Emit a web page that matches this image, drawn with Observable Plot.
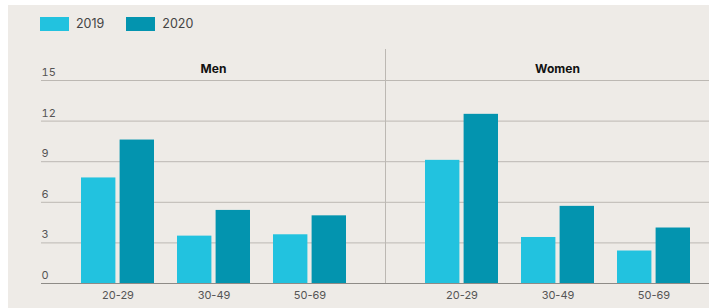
<!DOCTYPE html>
<html>
<head>
<meta charset="utf-8">
<script src="https://cdn.jsdelivr.net/npm/d3@7"></script>
<script src="https://cdn.jsdelivr.net/npm/@observablehq/plot@0.6"></script>
<style>
  html, body { margin: 0; padding: 0; background: #ffffff; overflow: hidden; }
  #wrap { position: absolute; left: 8px; top: 5px; width: 701px; height: 303px; background: #eeebe7; overflow: hidden; font-family: Inter, "Noto Sans", sans-serif; }
  #legend { position: absolute; left: 32px; top: 11px; display: flex; align-items: center; }
  .item { display: flex; align-items: center; margin-right: 22px; }
  .sw { width: 29px; height: 14px; }
  .lab { margin-left: 7px; font-size: 12.5px; color: #444; }
  #chart { position: absolute; left: 0; top: 35px; width: 721px; }
  #chart svg { max-width: none !important; }
</style>
</head>
<body>
<div id="wrap">
  <div id="legend"></div>
  <div id="chart"></div>
</div>
<script>
const sexes = ["Men", "Women"];
const ages = ["20-29", "30-49", "50-69"];
const years = ["2019", "2020"];
const men2019 = [7.8, 3.5, 3.6];
const men2020 = [10.6, 5.4, 5.0];
const women2019 = [9.1, 3.4, 2.4];
const women2020 = [12.5, 5.7, 4.1];
const yTicks = [0, 3, 6, 9, 12, 15];
const colors = ["#22c2df", "#0394af"];

const series = {Men: {"2019": men2019, "2020": men2020}, Women: {"2019": women2019, "2020": women2020}};
const rows = [];
for (const s of sexes) for (const [ai, a] of ages.entries()) for (const y of years)
  rows.push({sex: s, age: a, year: y, value: series[s][y][ai]});

// legend
const legend = document.getElementById("legend");
years.forEach((y, i) => {
  const it = document.createElement("div");
  it.className = "item";
  it.innerHTML = `<div class="sw" style="background:${colors[i]}"></div><span class="lab">${y}</span>`;
  legend.appendChild(it);
});

const chart = Plot.plot({
  width: 721,
  height: 268,
  marginLeft: 32,
  marginRight: 0,
  marginTop: 40,
  marginBottom: 25,
  style: {background: "transparent", fontFamily: "Inter, 'Noto Sans', sans-serif", maxWidth: "none"},
  fx: {domain: sexes, padding: 0, axis: null},
  x: {domain: ages, paddingInner: 0.242, paddingOuter: 0.41, axis: null},
  y: {domain: [0, 15], axis: null},
  color: {domain: years, range: colors},
  marks: [
    Plot.ruleY(yTicks.slice(1), {stroke: "#bcb8b3", strokeWidth: 1}),
    Plot.frame({anchor: "left", fx: ["Women"], insetTop: -31, stroke: "#bcb8b3"}),
    Plot.barY(rows.filter(d => d.year === "2019"), {fx: "sex", x: "age", y: "value", fill: "year", insetRight: 38.6}),
    Plot.barY(rows.filter(d => d.year === "2020"), {fx: "sex", x: "age", y: "value", fill: "year", insetLeft: 38.6}),
    Plot.ruleY([0], {stroke: "#8e8b87", strokeWidth: 1}),
    Plot.axisY(yTicks, {tickSize: 0, tickPadding: 0, textAnchor: "start", dy: -8, fontSize: 11, fill: "#555", label: null}),
    Plot.axisX({tickSize: 0, tickPadding: 8, fontSize: 11, fill: "#555", label: null}),
    Plot.text(sexes, {fx: d => d, text: d => d, frameAnchor: "top", dy: -16.5, fontWeight: "bold", fontSize: 12, fill: "#111"})
  ]
});
document.getElementById("chart").appendChild(chart);
</script>
</body>
</html>
